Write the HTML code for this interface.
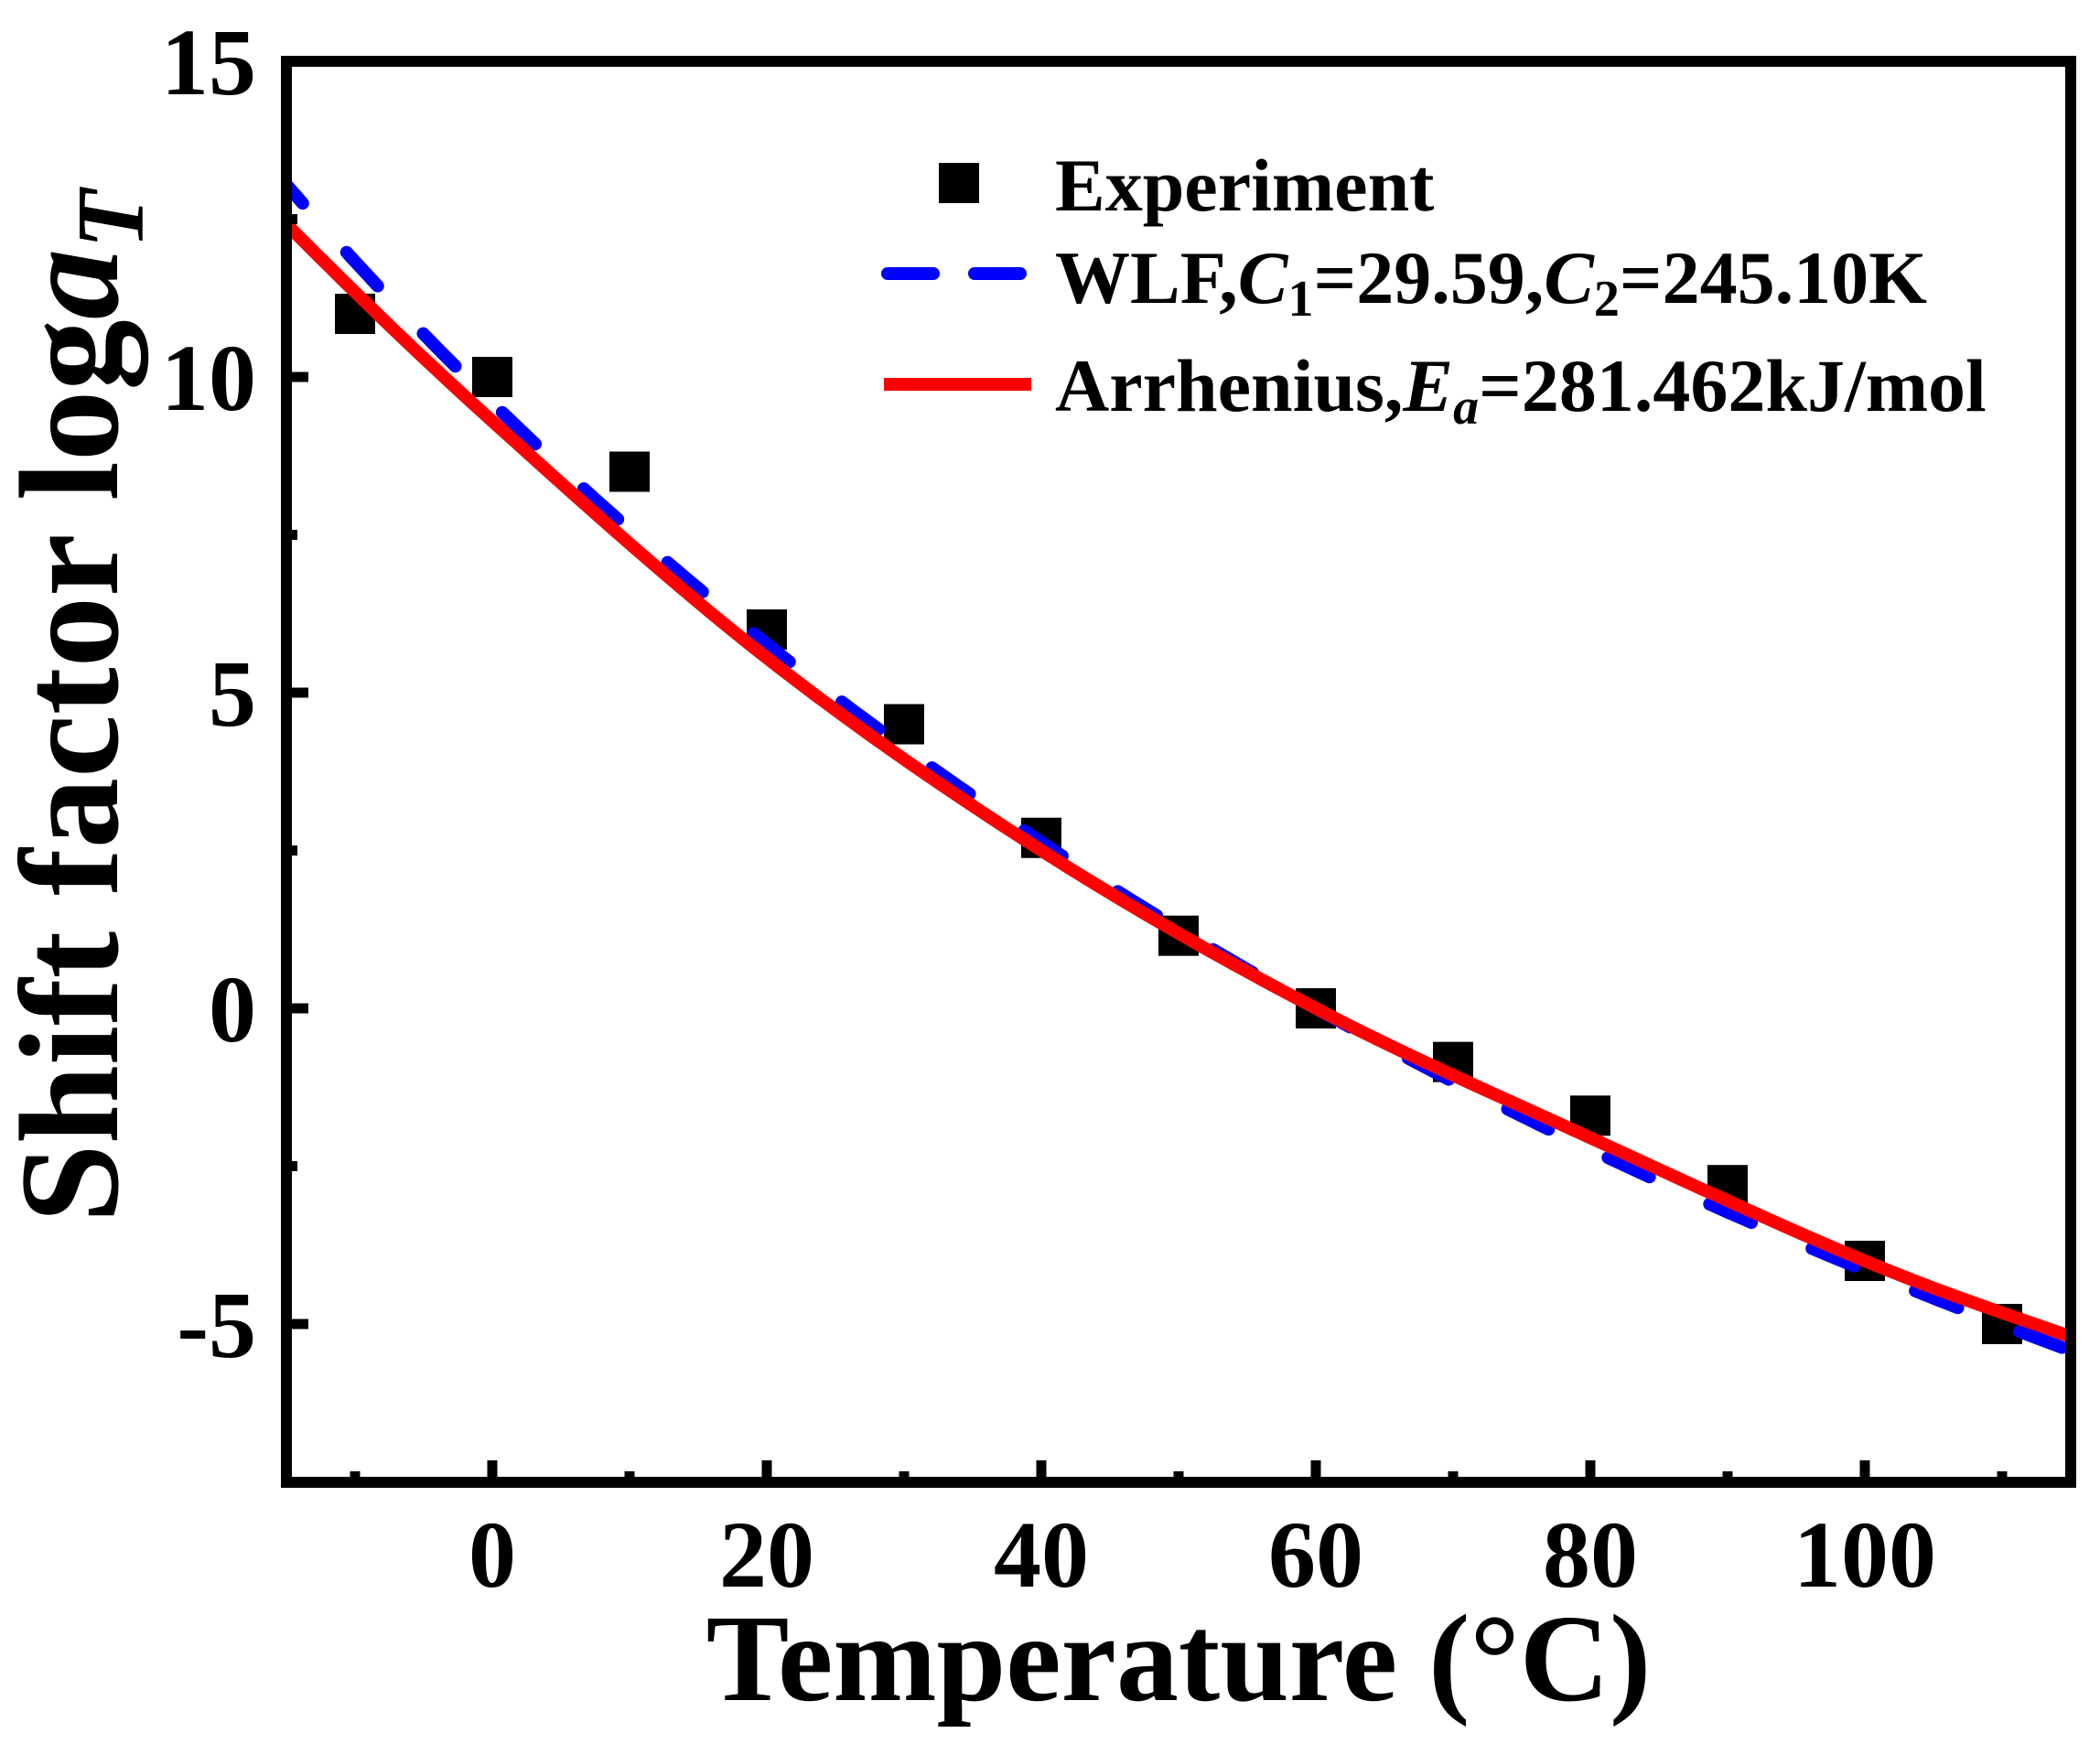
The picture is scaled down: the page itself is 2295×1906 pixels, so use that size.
<!DOCTYPE html>
<html><head><meta charset="utf-8"><style>
html,body{margin:0;padding:0;background:#fff;}
svg{display:block;}
text{font-family:"Liberation Serif",serif;font-weight:bold;fill:#000;}
</style></head><body>
<svg id="s" width="2295" height="1906" xmlns="http://www.w3.org/2000/svg">
<g id="plot"></g>
<rect x="313" y="67" width="1950" height="1553" fill="none" stroke="#000" stroke-width="12"/>
<g id="ticks"></g>
<g font-size="104" text-anchor="end">
<text x="280" y="103">15</text>
<text x="280" y="448">10</text>
<text x="280" y="793">5</text>
<text x="280" y="1138">0</text>
<text x="280" y="1483">-5</text>
</g>
<g font-size="104" text-anchor="middle">
<text x="538" y="1734">0</text>
<text x="838" y="1734">20</text>
<text x="1138" y="1734">40</text>
<text x="1438" y="1734">60</text>
<text x="1738" y="1734">80</text>
<text x="2038" y="1734">100</text>
</g>
<text x="1288" y="1858" font-size="136" text-anchor="middle">Temperature (°C)</text>
<text transform="translate(128,772) rotate(-90)" font-size="155" text-anchor="middle">Shift factor log<tspan font-style="italic">a</tspan><tspan font-style="italic" font-size="105" dy="28">T</tspan></text>
<rect x="1026" y="178" width="44" height="44" fill="#000"/>
<text x="1153" y="230" font-size="82">Experiment</text>
<line x1="970" y1="299" x2="1127" y2="299" stroke="#0000ff" stroke-width="14" stroke-dasharray="50 45" stroke-linecap="round"/>
<text x="1153" y="331" font-size="82">WLF,<tspan font-style="italic">C</tspan><tspan font-size="56" dy="14">1</tspan><tspan dy="-14">=29.59,</tspan><tspan font-style="italic">C</tspan><tspan font-size="56" dy="14">2</tspan><tspan dy="-14">=245.10K</tspan></text>
<line x1="966" y1="420" x2="1127" y2="420" stroke="#ff0000" stroke-width="14"/>
<text x="1153" y="449" font-size="82">Arrhenius,<tspan font-style="italic">E</tspan><tspan font-style="italic" font-size="56" dy="14">a</tspan><tspan dy="-14">=281.462kJ/mol</tspan></text>
</svg>
<script>
var NS="http://www.w3.org/2000/svg";
function X(t){return 538+15*t;}
function Y(v){return 1102-69*v;}
var plot=document.getElementById("plot"),ticks=document.getElementById("ticks");
function el(p,n,a){var e=document.createElementNS(NS,n);for(var k in a)e.setAttribute(k,a[k]);p.appendChild(e);return e;}
var cp=el(plot,"clipPath",{id:"c"});el(cp,"rect",{x:313,y:67,width:1950,height:1553});
var g=el(plot,"g",{"clip-path":"url(#c)"});
var pts=[[-10,11.0],[0,10.0],[10,8.5],[20,6.0],[30,4.5],[40,2.7],[50,1.15],[60,0],[70,-0.85],[80,-1.7],[90,-2.8],[100,-4.0],[110,-5.0]];
pts.forEach(function(p){el(g,"rect",{x:X(p[0])-22,y:Y(p[1])-22,width:44,height:44,fill:"#000"});});
var d="";for(var t=-16;t<=116;t+=0.5){var v=-29.59*(t-60)/(245.1+t-60);d+=(d?"L":"M")+X(t).toFixed(1)+","+Y(v).toFixed(1);}
el(g,"path",{d:d,fill:"none",stroke:"#0000ff","stroke-width":14,"stroke-dasharray":"50 72","stroke-linecap":"round"});
var R=[[-30,15.8],[-15,12.42],[0,9.3],[20,5.55],[40,2.5],[60,0],[80,-2.05],[100,-4.0],[115,-5.2],[130,-6.3]];
var d2="M"+X(R[1][0])+","+Y(R[1][1]);
for(var i=1;i<R.length-2;i++){var p0=R[i-1],p1=R[i],p2=R[i+1],p3=R[i+2];
 for(var s=1;s<=20;s++){var u=s/20,u2=u*u,u3=u2*u;
  var tx=0.5*((2*p1[0])+(-p0[0]+p2[0])*u+(2*p0[0]-5*p1[0]+4*p2[0]-p3[0])*u2+(-p0[0]+3*p1[0]-3*p2[0]+p3[0])*u3);
  var ty=0.5*((2*p1[1])+(-p0[1]+p2[1])*u+(2*p0[1]-5*p1[1]+4*p2[1]-p3[1])*u2+(-p0[1]+3*p1[1]-3*p2[1]+p3[1])*u3);
  d2+="L"+X(tx).toFixed(1)+","+Y(ty).toFixed(1);}}
el(g,"path",{d:d2,fill:"none",stroke:"#ff0000","stroke-width":14,"stroke-linejoin":"round"});
for(var t=-10;t<=110;t+=10){var L=(t%20==0)?24:12;el(ticks,"line",{x1:X(t),x2:X(t),y1:1620,y2:1620-L,stroke:"#000","stroke-width":11});}
for(var v=-5;v<=12.5;v+=2.5){var L=(v%5==0)?24:12;el(ticks,"line",{x1:313,x2:313+L,y1:Y(v),y2:Y(v),stroke:"#000","stroke-width":11});}
</script>
</body></html>
